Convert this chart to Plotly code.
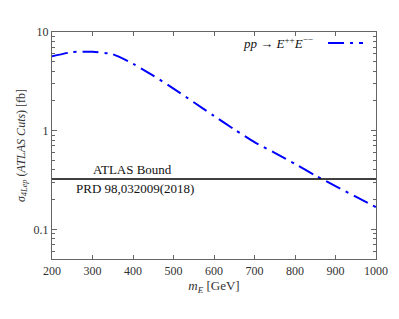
import plotly.graph_objects as go
import numpy as np

mass = [200, 250, 300, 350, 400, 450, 500, 550, 600, 650, 700, 750, 800, 850, 900, 950, 1000]
sigma = [5.66, 6.25, 6.3, 5.95, 4.76, 3.61, 2.67, 1.94, 1.41, 1.03, 0.765, 0.595, 0.46, 0.352, 0.274, 0.214, 0.168]
atlas_bound = 0.323
x_ticks = [200, 300, 400, 500, 600, 700, 800, 900, 1000]
y_ticks = [0.1, 1, 10]
y_tick_text = ["0.1", "1", "10"]
y_minor = [0.05, 0.06, 0.07, 0.08, 0.09] + [k * 0.1 for k in range(2, 10)] + [k * 1.0 for k in range(2, 10)]

FONT = "Liberation Serif, DejaVu Serif, serif"
AX = "#666666"
DASH = "16px,6px,3px,6px"

fig = go.Figure()
fig.add_trace(go.Scatter(
    x=mass, y=sigma, mode="lines",
    line=dict(color="#0000ff", width=2, dash=DASH, shape="spline", smoothing=0.6),
    showlegend=False,
))
fig.add_trace(go.Scatter(
    x=[mass[0], mass[-1]], y=[atlas_bound, atlas_bound], mode="lines",
    line=dict(color="black", width=1.6), showlegend=False,
))

fig.add_annotation(x=399, y=np.log10(atlas_bound), xref="x", yref="y", text="ATLAS Bound",
                   showarrow=False, yanchor="bottom", yshift=0, font=dict(family=FONT, size=13, color="#111"))
fig.add_annotation(x=406, y=np.log10(atlas_bound), xref="x", yref="y", text="PRD 98,032009(2018)",
                   showarrow=False, yanchor="top", yshift=0, font=dict(family=FONT, size=13, color="#111"))

# legend
fig.add_annotation(x=0.812, y=0.952, xref="paper", yref="paper",
                   text="<i>pp</i> → <i>E</i><sup>++</sup><i>E</i><sup>−−</sup>",
                   showarrow=False, xanchor="right", yanchor="middle",
                   font=dict(family=FONT, size=13, color="#111"))
fig.add_shape(type="line", xref="paper", yref="paper", x0=0.852, x1=0.96, y0=0.952, y1=0.952,
              line=dict(color="#0000ff", width=2, dash=DASH))

fig.update_layout(
    width=399, height=319,
    margin=dict(l=52, r=23, t=32, b=60),
    plot_bgcolor="white", paper_bgcolor="white",
    font=dict(family=FONT, size=12, color="#333"),
    xaxis=dict(
        range=[200, 1000], tickvals=x_ticks, ticks="inside", ticklen=4,
        showline=True, linecolor=AX, linewidth=1.2, mirror="ticks", tickcolor=AX,
        showgrid=False, zeroline=False, tickfont=dict(family=FONT, size=12, color="#333"),
        title=dict(text="<i>m<sub>E</sub></i> [GeV]", font=dict(family=FONT, size=13, color="#333"), standoff=4),
    ),
    yaxis=dict(
        type="log", range=[np.log10(0.05), 1], tickvals=y_ticks, ticktext=y_tick_text,
        ticks="inside", ticklen=5, tickcolor=AX,
        minor=dict(tickvals=y_minor, ticks="inside", ticklen=3, tickcolor=AX, showgrid=False),
        showline=True, linecolor=AX, linewidth=1.2, mirror="ticks",
        showgrid=False, zeroline=False, tickfont=dict(family=FONT, size=12, color="#333"),
        title=dict(text="<i>σ<sub>4Lep</sub></i> (<i>ATLAS Cuts</i>) [fb]",
                   font=dict(family=FONT, size=12, color="#333"), standoff=5),
    ),
)

fig.write_html("out.html", config={"displayModeBar": False},
               post_script="document.body.style.margin='0';document.body.style.overflow='hidden';")
